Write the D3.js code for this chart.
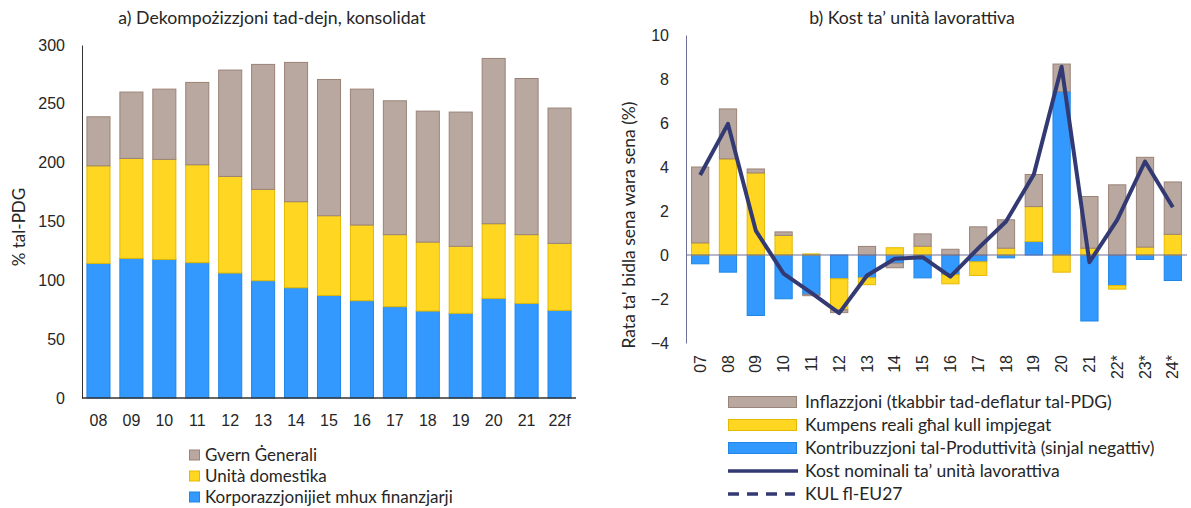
<!DOCTYPE html>
<html>
<head>
<meta charset="utf-8">
<script src="https://cdn.jsdelivr.net/npm/d3@7"></script>
<style>
  body { margin: 0; background: #fff; }
  svg { font-family: Lato, "Open Sans", sans-serif; fill: #262626; }
  .title { font-size: 17.7px; }
  .tick text { font-size: 16px; fill: #262626; }
  .legend text { font-size: 17px; fill: #262626; }
  .legendB text { font-size: 17.5px; fill: #262626; }
</style>
</head>
<body>
<div id="chart"></div>
<script>
// panel a) data, % of GDP
const yearsA = ['08','09','10','11','12','13','14','15','16','17','18','19','20','21','22f']
const nfc = [114.4,118.7,117.8,115,106.2,99.7,93.7,87.2,82.7,77.6,73.9,72,84.7,80.4,74.5]
const households = [82.9,84.9,85,83.2,82.1,77.6,73.1,67.7,64.3,61.2,58.6,56.9,63.4,58.4,56.9]
const government = [41.7,56.4,59.7,70,90.4,106.2,118.4,115.8,115.5,113.8,111.3,114.1,140.5,132.7,115]
const seriesA = ['Korporazzjonijiet mhux finanzjarji','Unità domestika','Gvern Ġenerali']

// panel b) data, y-o-y %
const yearsB = ['07','08','09','10','11','12','13','14','15','16','17','18','19','20','21','22*','23*','24*']
const productivity = [-0.4,-0.78,-2.75,-1.99,-1.79,-1.08,-1.04,-0.37,-1.04,-0.9,-0.31,-0.13,0.61,7.42,-3.0,-1.39,-0.2,-1.16]
const compensation = [0.55,4.37,3.73,0.89,0.05,-1.41,-0.31,0.33,0.4,-0.41,-0.62,0.31,1.59,-0.78,0.31,-0.16,0.36,0.94]
const inflation = [3.45,2.27,0.18,0.16,-0.06,-0.13,0.39,-0.21,0.56,0.26,1.28,1.29,1.46,1.26,2.35,3.19,4.08,2.38]
const ulc = [3.64,5.96,1.11,-0.85,-1.72,-2.64,-0.93,-0.17,-0.1,-0.98,0.3,1.52,3.66,8.56,-0.33,1.6,4.25,2.17]

const colors = { grey: '#b8a8a0', yellow: '#ffd722', blue: '#3399ff', line: '#333a73' }
const strokes = { grey: '#9a8378', yellow: '#e5b900', blue: '#1f86e6' }

const svg = d3.select('#chart').append('svg')
  .attr('width', 1191)
  .attr('height', 508)

// ---------- panel a ----------
const xA = d3.scaleBand().domain(yearsA).range([82, 576]).paddingInner(0.3).paddingOuter(0.15)
const yA = d3.scaleLinear().domain([0, 300]).range([398, 45])

const tableA = yearsA.map((y, i) => ({ year: y, nfc: nfc[i], hh: households[i], gg: government[i] }))
const stackA = d3.stack().keys(['nfc','hh','gg'])(tableA)
const fillA = [colors.blue, colors.yellow, colors.grey]
const strokeA = [strokes.blue, strokes.yellow, strokes.grey]

const gA = svg.append('g')
gA.selectAll('g.layer')
  .data(stackA)
  .enter()
  .append('g')
  .attr('fill', (d, i) => fillA[i])
  .attr('stroke', (d, i) => strokeA[i])
  .selectAll('rect')
  .data(d => d)
  .enter()
  .append('rect')
  .attr('x', d => xA(d.data.year))
  .attr('y', d => yA(d[1]))
  .attr('width', xA.bandwidth())
  .attr('height', d => yA(d[0]) - yA(d[1]))

const axAy = gA.append('g')
  .attr('transform', 'translate(82,0)')
  .call(d3.axisLeft(yA).tickValues(d3.range(0, 301, 50)).tickSize(0).tickPadding(17))
axAy.select('.domain').attr('stroke', '#333')

const axAx = gA.append('g')
  .attr('transform', 'translate(0,398)')
  .call(d3.axisBottom(xA).tickSize(0).tickPadding(17))
axAx.select('.domain').attr('stroke', '#333').attr('stroke-width', 1.3).attr('d', 'M82,0H576')

gA.append('text').attr('class', 'title')
  .attr('x', 272).attr('y', 24).attr('text-anchor', 'middle')
  .text('a) Dekompożizzjoni tad-dejn, konsolidat')

gA.append('text')
  .attr('transform', 'translate(25,227) rotate(-90)')
  .attr('text-anchor', 'middle')
  .style('font-size', '17px')
  .text('% tal-PDG')

const legA = gA.append('g').attr('class', 'legend')
const legAItems = [
  { label: seriesA[2], fill: colors.grey, stroke: strokes.grey },
  { label: seriesA[1], fill: colors.yellow, stroke: strokes.yellow },
  { label: seriesA[0], fill: colors.blue, stroke: strokes.blue }
]
legAItems.forEach((d, i) => {
  const row = legA.append('g').attr('transform', `translate(189,${455 + i * 21})`)
  row.append('rect').attr('x', 0.5).attr('y', -5).attr('width', 10).attr('height', 10)
    .attr('fill', d.fill).attr('stroke', d.stroke)
  row.append('text').attr('x', 16).attr('dy', '0.35em').text(d.label)
})

// ---------- panel b ----------
const xB = d3.scaleBand().domain(yearsB).range([686, 1187]).paddingInner(0.38).paddingOuter(0.2)
const yB = d3.scaleLinear().domain([-4, 10]).range([343, 35])

const tableB = yearsB.map((y, i) => ({ year: y, prod: productivity[i], comp: compensation[i], infl: inflation[i] }))
const stackB = d3.stack().keys(['prod','comp','infl']).offset(d3.stackOffsetDiverging)(tableB)
const fillB = [colors.blue, colors.yellow, colors.grey]
const strokeB = [strokes.blue, strokes.yellow, strokes.grey]

const gB = svg.append('g')
gB.selectAll('g.layer')
  .data(stackB)
  .enter()
  .append('g')
  .attr('fill', (d, i) => fillB[i])
  .attr('stroke', (d, i) => strokeB[i])
  .selectAll('rect')
  .data(d => d)
  .enter()
  .append('rect')
  .attr('x', d => xB(d.data.year))
  .attr('y', d => yB(Math.max(d[0], d[1])))
  .attr('width', xB.bandwidth())
  .attr('height', d => Math.abs(yB(d[0]) - yB(d[1])))

const axBy = gB.append('g')
  .attr('transform', 'translate(686,0)')
  .call(d3.axisLeft(yB).tickValues(d3.range(-4, 11, 2)).tickSize(0).tickPadding(17))
axBy.select('.domain').attr('stroke', '#6f6f9c')

gB.append('line')
  .attr('x1', 686).attr('x2', 1187)
  .attr('y1', yB(0)).attr('y2', yB(0))
  .attr('stroke', '#6f6f9c').attr('stroke-width', 1.2)

const axBx = gB.append('g')
  .attr('transform', 'translate(0,343)')
  .call(d3.axisBottom(xB).tickSize(0))
axBx.select('.domain').remove()
axBx.selectAll('text')
  .attr('transform', 'rotate(-90)')
  .attr('text-anchor', 'end')
  .attr('x', -12)
  .attr('y', 0)
  .attr('dy', '0.35em')

gB.append('path')
  .datum(ulc)
  .attr('fill', 'none')
  .attr('stroke', colors.line)
  .attr('stroke-width', 4)
  .attr('stroke-linejoin', 'round')
  .attr('d', d3.line().x((d, i) => xB(yearsB[i]) + xB.bandwidth() / 2).y(d => yB(d)))

gB.append('text').attr('class', 'title')
  .attr('x', 912).attr('y', 24).attr('text-anchor', 'middle')
  .text('b) Kost ta’ unità lavorattiva')

gB.append('text')
  .attr('transform', 'translate(635,225) rotate(-90)')
  .attr('text-anchor', 'middle')
  .style('font-size', '17.5px')
  .text("Rata ta' bidla sena wara sena (%)")

const legB = gB.append('g').attr('class', 'legendB')
const legBItems = [
  { label: 'Inflazzjoni (tkabbir tad-deflatur tal-PDG)', fill: colors.grey, stroke: strokes.grey },
  { label: 'Kumpens reali għal kull impjegat', fill: colors.yellow, stroke: strokes.yellow },
  { label: 'Kontribuzzjoni tal-Produttività (sinjal negattiv)', fill: colors.blue, stroke: strokes.blue },
  { label: 'Kost nominali ta’ unità lavorattiva', line: true },
  { label: 'KUL fl-EU27', line: true, dash: true }
]
legBItems.forEach((d, i) => {
  const row = legB.append('g').attr('transform', `translate(728,${402 + i * 23})`)
  if (d.line) {
    row.append('line').attr('x1', 0).attr('x2', d.dash ? 67 : 70).attr('y1', 0).attr('y2', 0)
      .attr('stroke', colors.line).attr('stroke-width', 3.5)
      .attr('stroke-dasharray', d.dash ? '11,8' : null)
  } else {
    row.append('rect').attr('x', 0.5).attr('y', -5.5).attr('width', 68).attr('height', 11)
      .attr('fill', d.fill).attr('stroke', d.stroke)
  }
  row.append('text').attr('x', 77).attr('dy', '0.35em').text(d.label)
})
</script>
</body>
</html>
